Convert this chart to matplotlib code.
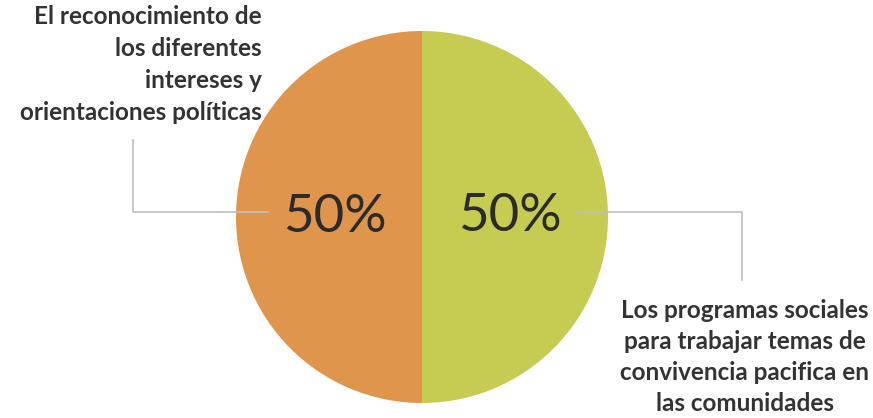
import matplotlib.pyplot as plt

# datos
categorias = ['El reconocimiento de\nlos diferentes\nintereses y\norientaciones políticas',
              'Los programas sociales\npara trabajar temas de\nconvivencia pacifica en\nlas comunidades']
valores = [50, 50]
colores = ['#DF954C', '#C6CB52']

W, H = 873, 418
fig = plt.figure(figsize=(W / 100, H / 100), dpi=100)
ax = fig.add_axes([0, 0, 1, 1])

cx, cy, r = 422, H - 217, 186
wedges, texts, autotexts = ax.pie(valores, colors=colores, startangle=90,
                                  center=(cx, cy), radius=r,
                                  autopct='%d%%', pctdistance=0.47,
                                  textprops=dict(family='Lato', fontsize=38, color='#2b2b2b'),
                                  frame=True)
ax.set_xlim(0, W)
ax.set_ylim(0, H)
ax.set_aspect('equal')
ax.axis('off')

# líneas guía
gris = '#bfbfbf'
ax.plot([268, 133, 133], [H - 212, H - 212, H - 140], color=gris, lw=1.2)
ax.plot([577, 742, 742], [H - 212, H - 212, H - 280], color=gris, lw=1.2)

# etiquetas
ax.text(262, H - 5, categorias[0], ha='right', va='top', family='Lato',
        fontweight='bold', fontsize=17.5, color='#333333', linespacing=1.47)
ax.text(745, H - 299, categorias[1], ha='center', va='top', family='Lato',
        fontweight='bold', fontsize=17.5, color='#333333', linespacing=1.42)

fig.savefig('out.png', dpi=100)
